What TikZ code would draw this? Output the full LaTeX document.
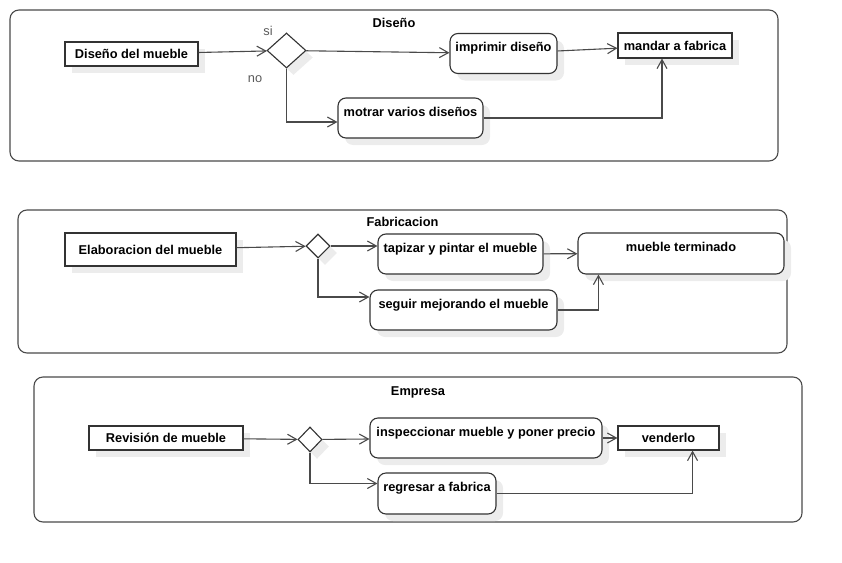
\documentclass[tikz,border=0pt]{standalone}
\usepackage{fontspec}
\setmainfont{Liberation Sans}
\usetikzlibrary{shapes.geometric, arrows.meta, shadows}
\definecolor{umlline}{HTML}{4A4A4A}
\definecolor{umlshade}{HTML}{ECECEC}
\definecolor{umlguard}{HTML}{5A5A5A}

\begin{document}
\begin{tikzpicture}[x=1pt, y=-1pt, line width=1.1pt,
    font=\bfseries\fontsize{12.8}{15}\selectfont,
    >={Straight Barb[length=9pt, width=10pt]},
    boxshadow/.style={drop shadow={shadow xshift=7pt, shadow yshift=-7pt, fill=umlshade, opacity=1}},
    lane/.style={draw=umlline, rounded corners=9pt, inner sep=0pt},
    title/.style={anchor=base, inner sep=0pt},
    task/.style={draw=black!80, fill=white, boxshadow, inner sep=3pt, minimum height=24pt},
    activity/.style={draw=black!80, fill=white, boxshadow, rounded corners=8pt,
        inner xsep=4pt, inner ysep=3pt, text height=15pt, text depth=19pt},
    choice/.style={diamond, draw=black!80, fill=white, boxshadow, inner sep=0pt},
    guard/.style={font=\fontsize{12.8}{15}\selectfont, text=umlguard, inner sep=0pt},
    flow/.style={->, draw=umlline}]
    \useasboundingbox (0,0) rectangle (842,562);

    % Diseño
    \node[lane, minimum width=768pt, minimum height=151pt] (laneDis) at (394,85.5) {};
    \node[title] (tDis) at ([yshift=-18.5pt]laneDis.north) {Diseño};
    \node[task, minimum width=133pt] (dmueble) at (131.5,54) {Diseño del mueble};
    \node[choice, minimum width=39pt, minimum height=35pt] (cDis) at (286.5,50.5) {};
    \node[guard] (gSi) at (268,31) {si};
    \node[guard] (gNo) at (255,79) {no};
    \node[activity, minimum width=107pt] (imprimir) at (503.5,53.5) {imprimir diseño};
    \node[task, minimum width=114pt, minimum height=25pt] (mandar) at (675,45.5) {mandar a fabrica};
    \node[activity, minimum width=145pt] (motrar) at (410.5,118) {motrar varios diseños};

    % Fabricacion
    \node[lane, minimum width=769pt, minimum height=143pt] (laneFab) at (402.5,281.5) {};
    \node[title] (tFab) at ([yshift=-17pt]laneFab.north) {Fabricacion};
    \node[task, minimum width=171pt, minimum height=33pt] (elab) at (150.5,249.5) {Elaboracion del mueble};
    \node[choice, minimum width=24pt, minimum height=24pt] (cFab) at (318,246) {};
    \node[activity, minimum width=165pt] (tapizar) at (460.5,254) {tapizar y pintar el mueble};
    \node[activity, minimum width=206pt, minimum height=41pt] (terminado) at (681,253.5) {mueble terminado};
    \node[activity, minimum width=187pt] (seguir) at (463.5,310) {seguir mejorando el mueble};

    % Empresa
    \node[lane, minimum width=768pt, minimum height=145pt] (laneEmp) at (418,449.5) {};
    \node[title] (tEmp) at ([yshift=-19pt]laneEmp.north) {Empresa};
    \node[task, minimum width=154pt] (revision) at (166,438) {Revisión de mueble};
    \node[choice, minimum width=24pt, minimum height=25pt] (cEmp) at (310,439.5) {};
    \node[activity, minimum width=232pt] (inspec) at (486,438) {inspeccionar mueble y poner precio};
    \node[task, minimum width=101pt] (vender) at (668.5,438) {venderlo};
    \node[activity, minimum width=118pt, minimum height=41pt] (regresar) at (437,493.5) {regresar a fabrica};

    \draw[flow] (dmueble) -- (cDis);
    \draw[flow] (cDis) -- (imprimir);
    \draw[flow] (imprimir) -- (mandar);
    \draw[flow] (cDis.south) |- ([yshift=-4pt]motrar.west);
    \draw[flow] (motrar.east) -| ([xshift=-13pt]mandar.south);

    \draw[flow] (elab) -- (cFab);
    \draw[flow] (cFab.east) -- (cFab.east -| tapizar.west);
    \draw[flow] (tapizar) -- (terminado);
    \draw[flow] (cFab.south) |- ([yshift=13pt]seguir.west);
    \draw[flow] (seguir.east) -| ([xshift=21pt]terminado.south west);

    \draw[flow] (revision) -- (cEmp);
    \draw[flow] (cEmp) -- (inspec);
    \draw[flow] (inspec) -- (vender);
    \draw[flow] (cEmp.south) |- ([yshift=10pt]regresar.west);
    \draw[flow] (regresar.east) -| ([xshift=-27pt]vender.south east);
\end{tikzpicture}
\end{document}
